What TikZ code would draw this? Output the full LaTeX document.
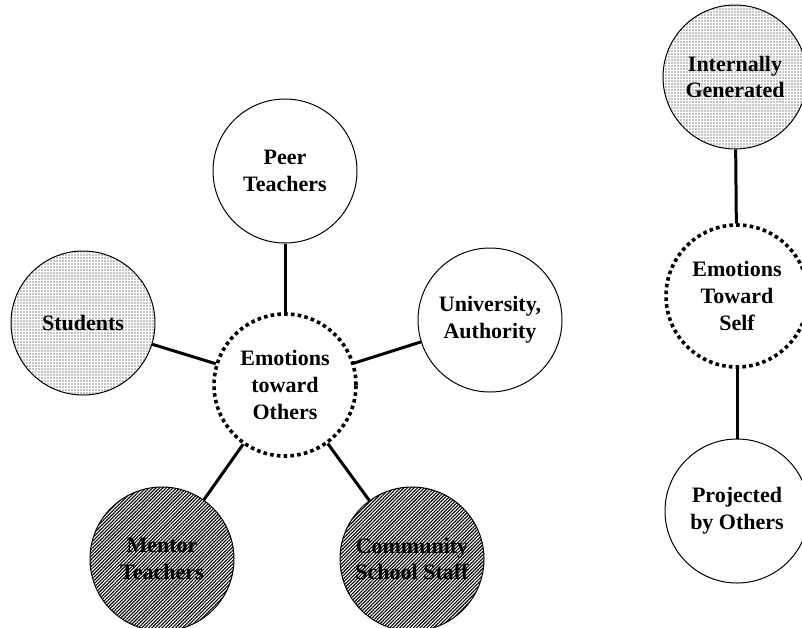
\documentclass[tikz,border=0pt]{standalone}
\usepackage{fontspec}
\setmainfont{Liberation Serif}
\usetikzlibrary{patterns.meta}
\begin{document}
\begin{tikzpicture}[x=1pt, y=-1pt,
  bubble/.style={circle, draw=black, line width=1pt, minimum size=144pt, inner sep=0pt,
    align=center, font=\fontsize{22}{26.7}\selectfont\bfseries},
  plain/.style={bubble, fill=white},
  dotfill/.style={bubble, pattern={Dots[distance=3pt, radius=0.65pt]}},
  hatchfill/.style={bubble, pattern={Lines[angle=45, distance=2.4pt, line width=1.1pt]}},
  core/.style={bubble, draw=none, fill=white},
  coreedge/.style={draw=black, line width=3.6pt, dash pattern=on 3.6pt off 3.2pt},
  link/.style={line width=3pt, black}]
\useasboundingbox (0,0) rectangle (802,627);
\clip (0,0) rectangle (802,627);

% left group: emotions toward others
\node[core] (others) at (285,385) {Emotions\\toward\\Others};
\node[plain] (peer) at (285,171) {Peer\\Teachers};
\node[dotfill] (students) at (83,323) {Students};
\node[plain] (univ) at (490,320) {University,\\Authority};
\node[hatchfill] (mentor) at (162,559) {Mentor\\Teachers};
\node[hatchfill] (community) at (412,559) {Community\\School Staff};

% right group: emotions toward self
\node[dotfill] (internal) at (735,77) {Internally\\Generated};
\node[core] (self) at (737,296) {Emotions\\Toward\\Self};
\node[plain] (projected) at (737,511) {Projected\\by Others};

% connectors
\draw[link] (others) -- (peer);
\draw[link] (others) -- (students);
\draw[link] (others) -- (univ);
\draw[link] (others) -- (mentor);
\draw[link] (others) -- (community);
\draw[link] (self) -- (internal);
\draw[link] (self) -- (projected);

% dotted rims of the two core circles
\draw[coreedge] (others) circle[radius=71pt];
\draw[coreedge] (self) circle[radius=71pt];
\end{tikzpicture}
\end{document}
